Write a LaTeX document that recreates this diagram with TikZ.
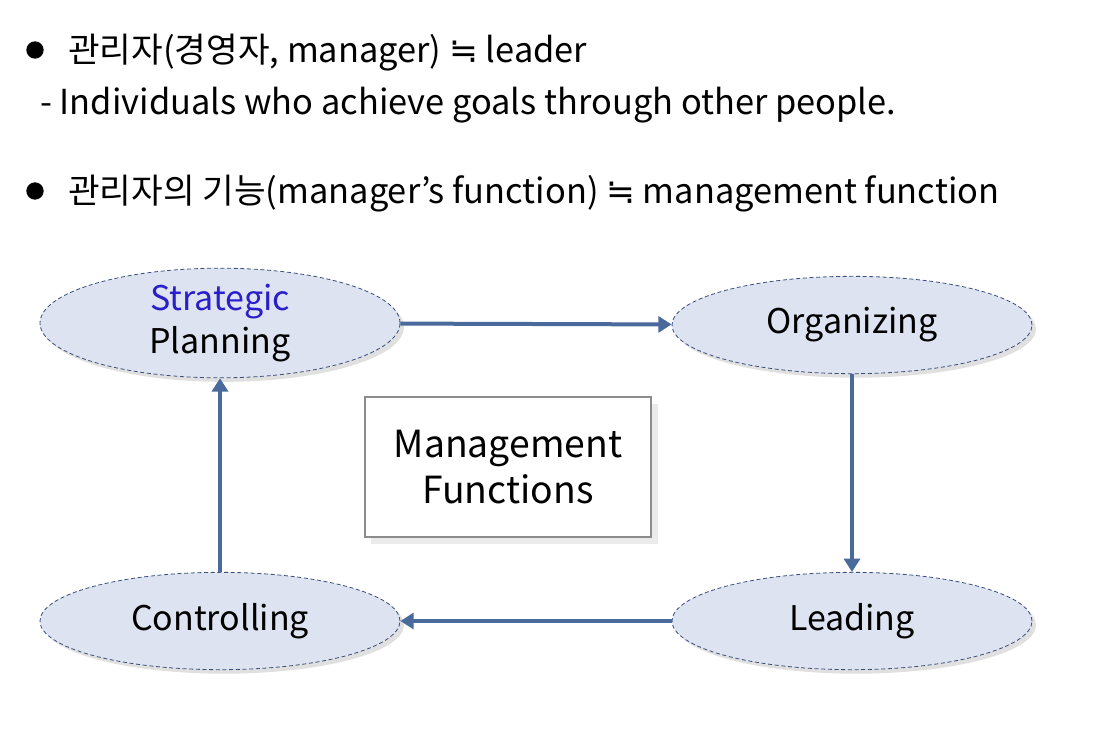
\documentclass[tikz,border=0pt]{standalone}
\usepackage{fontspec}
\setmainfont{Noto Sans CJK KR}
\newfontfamily\symfont{DejaVu Sans}
\usetikzlibrary{shapes.geometric,shadows,arrows.meta}
\definecolor{arrowblue}{HTML}{4A6A9C}
\definecolor{ellfill}{HTML}{DDE3F0}
\definecolor{ellline}{HTML}{3A4E7A}
\definecolor{stratblue}{HTML}{2A1ECC}
\newcommand{\approxeq}{{\symfont ≒}}
\tikzset{
  func/.style={ellipse, draw=ellline, densely dashed, line width=0.6pt, fill=ellfill,
    minimum width=270pt, minimum height=73pt, inner sep=0pt, align=center,
    font=\fontsize{25.5}{32}\selectfont,
    drop shadow={shadow xshift=3pt, shadow yshift=-3pt, fill=black!12, opacity=1}},
  centerbox/.style={rectangle, draw=black!45, line width=1.5pt, fill=white,
    minimum width=215pt, minimum height=105pt, align=center,
    font=\fontsize{28}{34}\selectfont,
    drop shadow={shadow xshift=5pt, shadow yshift=-5pt, fill=black!8, opacity=1}},
  flow/.style={draw=arrowblue, line width=3pt, -{Triangle[length=10pt,width=12pt]}},
  head/.style={anchor=base west, inner sep=0pt, font=\fontsize{25.8}{30}\selectfont},
  bul/.style={circle, fill=black, inner sep=0pt, minimum size=13pt}
}
\begin{document}
\begin{tikzpicture}[x=0.75pt,y=-0.75pt]
\useasboundingbox (0,0) rectangle (1106,744);
\node[bul] (b1) at (35,50) {};
\node[head] (t1) at (68,62) {관리자(경영자, manager) \approxeq{} leader};
\node[head, font=\fontsize{25.8}{30}\selectfont] (t2) at (40,114) {- Individuals who achieve goals through other people.};
\node[bul] (b2) at (35,191) {};
\node[head] (t3) at (68,203) {관리자의 기능(manager’s function) \approxeq{} management function};

\node[func] (plan) at (220,323) {\textcolor{stratblue}{Strategic}\\Planning};
\node[func] (org) at (852,325) {Organizing};
\node[func] (lead) at (852,621) {Leading};
\node[func] (ctrl) at (220,621) {Controlling};
\node[centerbox] (mf) at (508,467) {Management\\Functions};

\draw[flow] (plan) -- (org);
\draw[flow] (org) -- (lead);
\draw[flow] (lead) -- (ctrl);
\draw[flow] (ctrl) -- (plan);
\end{tikzpicture}
\end{document}
